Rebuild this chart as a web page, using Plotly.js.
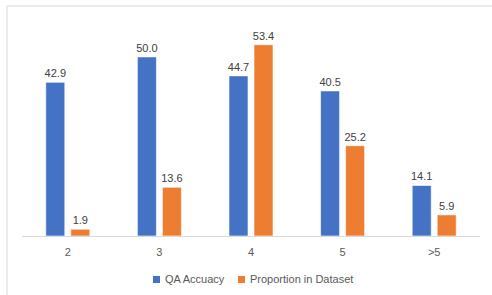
<!DOCTYPE html>
<html>
<head>
<meta charset="utf-8">
<script src="https://cdn.plot.ly/plotly-3.0.1.min.js"></script>
<style>
html,body{margin:0;padding:0;background:#fff;}
#chart{width:492px;height:295px;}
</style>
</head>
<body>
<div id="chart"></div>
<script>
const categories = ["2", "3", "4", "5", ">5"];
const qaAccuracy = [42.9, 50.0, 44.7, 40.5, 14.1];
const proportion = [1.9, 13.6, 53.4, 25.2, 5.9];
const seriesNames = ["QA Accuacy", "Proportion in Dataset"];
const seriesColors = ["#4472C4", "#ED7D31"];

const fontFam = "Liberation Sans, Arial, sans-serif";

function mk(name, vals, color) {
  return {
    type: "bar",
    name: name,
    x: categories,
    y: vals,
    marker: {color: color, line: {color: "rgba(255,255,255,0.6)", width: 1}},
    text: vals.map(v => v.toFixed(1)),
    textposition: "outside",
    textfont: {family: fontFam, size: 11, color: "#404040"},
    cliponaxis: false,
    hoverinfo: "none"
  };
}

const data = [
  mk(seriesNames[0], qaAccuracy, seriesColors[0]),
  mk(seriesNames[1], proportion, seriesColors[1])
];

// manual legend (paper coordinates)
const legSq = [[0.286, 0.3013], [0.4716, 0.4869]];
const legTx = [0.3079, 0.4934];
const legendShapes = seriesNames.map((n, i) => ({
  type: "rect", xref: "paper", yref: "paper",
  x0: legSq[i][0], x1: legSq[i][1], y0: -0.2176, y1: -0.185,
  line: {width: 0}, fillcolor: seriesColors[i]
}));
const legendAnn = seriesNames.map((n, i) => ({
  xref: "paper", yref: "paper", x: legTx[i], y: -0.201,
  xanchor: "left", yanchor: "middle", showarrow: false, text: n,
  font: {family: fontFam, size: 11, color: "#595959"}
}));

const layout = {
  width: 492, height: 295,
  margin: {l: 22, r: 12, t: 20, b: 59, autoexpand: false},
  paper_bgcolor: "#fff", plot_bgcolor: "#fff",
  barmode: "group",
  bargap: 0.454,
  bargroupgap: 0.24,
  showlegend: false,
  uniformtext: {mode: "show", minsize: 11},
  xaxis: {
    type: "category",
    showline: true, linecolor: "#d9d9d9", linewidth: 1,
    ticks: "outside", ticklen: 6, tickcolor: "rgba(0,0,0,0)",
    showgrid: false, zeroline: false,
    tickfont: {family: fontFam, size: 11, color: "#595959"}
  },
  yaxis: {
    range: [0, 60.3], visible: false, showgrid: false, zeroline: false
  },
  shapes: [{
    type: "rect", xref: "paper", yref: "paper",
    x0: -0.0328, x1: 1.05, y0: -0.3, y1: 1.065,
    line: {color: "#d9d9d9", width: 1}, fillcolor: "rgba(0,0,0,0)", layer: "below"
  }].concat(legendShapes),
  annotations: legendAnn
};

Plotly.newPlot("chart", data, layout, {staticPlot: true, displayModeBar: false});
</script>
</body>
</html>
